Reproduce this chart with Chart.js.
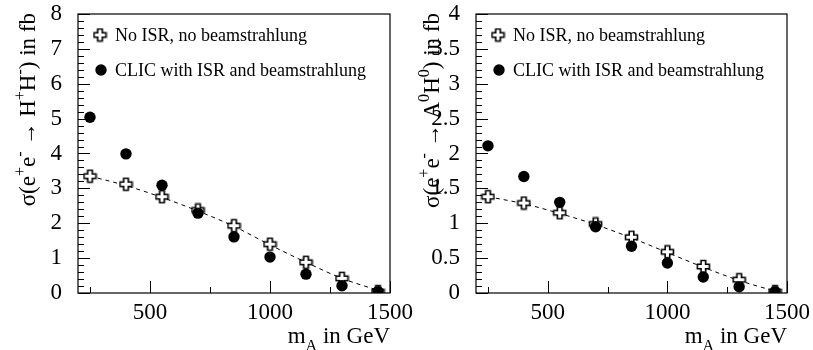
<!DOCTYPE html>
<html>
<head>
<meta charset="utf-8">
<script src="https://cdn.jsdelivr.net/npm/chart.js@4.4.1/dist/chart.umd.min.js"></script>
<style>
  html, body { margin: 0; padding: 0; background: #fff; }
  #wrap { position: relative; width: 813px; height: 350px; overflow: hidden; }
  .panel { position: absolute; top: 0; height: 350px; }
  #p1 { left: 0; width: 420px; }
  #p2 { left: 406px; width: 407px; }
</style>
</head>
<body>
<div id="wrap">
  <div class="panel" id="p1"><canvas id="chargedChart" width="420" height="350"></canvas></div>
  <div class="panel" id="p2"><canvas id="neutralChart" width="407" height="350"></canvas></div>
</div>
<script>
// m_A points (GeV)
const massPoints = [250, 400, 550, 700, 850, 1000, 1150, 1300, 1450];

// sigma(e+e- -> H+H-) in fb
const chargedNoIsr = [3.35, 3.12, 2.76, 2.38, 1.93, 1.40, 0.88, 0.42, 0.04];
const chargedClic  = [5.04, 3.99, 3.09, 2.29, 1.61, 1.03, 0.54, 0.21, 0.04];

// sigma(e+e- -> A0H0) in fb
const neutralNoIsr = [1.38, 1.29, 1.15, 0.99, 0.80, 0.59, 0.38, 0.19, 0.02];
const neutralClic  = [2.11, 1.67, 1.30, 0.95, 0.67, 0.43, 0.23, 0.09, 0.02];

// dashed curve through the no-ISR cross section
const curveMass    = [250, 400, 550, 700, 850, 1000, 1150, 1300, 1450, 1490];
const chargedCurve = [3.35, 3.08, 2.74, 2.35, 1.91, 1.38, 0.88, 0.42, 0.08, 0];
const neutralCurve = [1.38, 1.28, 1.14, 0.98, 0.79, 0.58, 0.37, 0.18, 0.03, 0];

const xTicks = [500, 1000, 1500];
const chargedTicks = [0, 1, 2, 3, 4, 5, 6, 7, 8];
const neutralTicks = [0, 0.5, 1, 1.5, 2, 2.5, 3, 3.5, 4];
const legendLabels = ['No ISR, no beamstrahlung', 'CLIC with ISR and beamstrahlung'];

const SERIF = "'Liberation Serif', 'Times New Roman', serif";

// open cross marker
function makeCross() {
  const c = document.createElement('canvas');
  c.width = 15; c.height = 15;
  const g = c.getContext('2d');
  const m = 7.5, h = 6, w = 2.3;
  g.beginPath();
  g.moveTo(m - w, m - h); g.lineTo(m + w, m - h); g.lineTo(m + w, m - w);
  g.lineTo(m + h, m - w); g.lineTo(m + h, m + w); g.lineTo(m + w, m + w);
  g.lineTo(m + w, m + h); g.lineTo(m - w, m + h); g.lineTo(m - w, m + w);
  g.lineTo(m - h, m + w); g.lineTo(m - h, m - w); g.lineTo(m - w, m - w);
  g.closePath();
  g.fillStyle = '#fff'; g.fill();
  g.lineWidth = 1.6; g.strokeStyle = '#000'; g.stroke();
  return c;
}
const crossImg = makeCross();

// text with super/subscripts: parts = [[text, 'sup'|'sub'|undefined], ...]
function richWidth(ctx, parts, size) {
  let w = 0;
  parts.forEach(([t, k]) => {
    ctx.font = (k ? size * 0.7 : size) + 'px ' + SERIF;
    w += ctx.measureText(t).width;
  });
  return w;
}
function drawRich(ctx, parts, x, y, size) {
  parts.forEach(([t, k]) => {
    ctx.font = (k ? size * 0.7 : size) + 'px ' + SERIF;
    const dy = k === 'sup' ? -size * 0.45 : k === 'sub' ? size * 0.33 : 0;
    ctx.fillText(t, x, y + dy);
    x += ctx.measureText(t).width;
  });
}

const rootStyle = {
  id: 'rootStyle',
  beforeDatasetsDraw(chart, args, o) {
    const { ctx, chartArea: a, scales: { x, y } } = chart;
    ctx.save();
    ctx.strokeStyle = '#000';
    ctx.lineWidth = 1.2;
    ctx.strokeRect(a.left, a.top, a.right - a.left, a.bottom - a.top);
    ctx.lineWidth = 1;
    ctx.beginPath();
    for (let v = 0; v <= o.yMax + 1e-9; v += o.yMinor) {
      const p = Math.round(y.getPixelForValue(v)) + 0.5;
      const major = Math.abs(v / o.yMajor - Math.round(v / o.yMajor)) < 1e-6;
      ctx.moveTo(a.left, p); ctx.lineTo(a.left + (major ? 12 : 6), p);
    }
    for (let v = 250; v <= 1500; v += 250) {
      const p = Math.round(x.getPixelForValue(v)) + 0.5;
      const major = xTicks.includes(v);
      ctx.moveTo(p, a.bottom); ctx.lineTo(p, a.bottom - (major ? 12 : 6));
    }
    ctx.stroke();
    ctx.restore();
  },
  afterDraw(chart, args, o) {
    const { ctx, chartArea: a } = chart;
    ctx.save();
    ctx.fillStyle = '#000';
    ctx.textBaseline = 'alphabetic';
    // legend
    ctx.drawImage(crossImg, a.left + 22 - 7.5, 35 - 7.5);
    ctx.font = '18px ' + SERIF;
    ctx.fillText(legendLabels[0], a.left + 37, 41);
    ctx.beginPath();
    ctx.arc(a.left + 23, 70, 5.7, 0, Math.PI * 2);
    ctx.fill();
    ctx.fillText(legendLabels[1], a.left + 37, 76);
    // x title, right aligned
    const xt = [['m'], ['A', 'sub'], [' in GeV']];
    drawRich(ctx, xt, a.right - richWidth(ctx, xt, 23), 343, 23);
    // y title, rotated, right aligned at top
    ctx.translate(o.titleX, 13);
    ctx.rotate(-Math.PI / 2);
    drawRich(ctx, o.yTitle, -richWidth(ctx, o.yTitle, 23), 0, 23);
    ctx.restore();
  }
};

function buildChart(id, noIsr, clic, curve, yTicks, style) {
  new Chart(document.getElementById(id), {
    type: 'scatter',
    data: {
      datasets: [
        {
          label: legendLabels[1],
          data: massPoints.map((m, i) => ({ x: m, y: clic[i] })),
          pointStyle: 'circle', pointRadius: 5.7, pointHoverRadius: 5.7,
          backgroundColor: '#000', borderColor: '#000', borderWidth: 0,
          order: 0
        },
        {
          label: legendLabels[0],
          data: massPoints.map((m, i) => ({ x: m, y: noIsr[i] })),
          pointStyle: crossImg,
          order: 1
        },
        {
          type: 'line',
          data: curveMass.map((m, i) => ({ x: m, y: curve[i] })),
          borderColor: '#000', borderWidth: 1, borderDash: [4, 4],
          pointRadius: 0, fill: false, cubicInterpolationMode: 'monotone',
          order: 2
        }
      ]
    },
    options: {
      responsive: false,
      animation: false,
      layout: { padding: { top: 14, right: style.padRight, left: 0, bottom: 0 } },
      plugins: {
        legend: { display: false },
        tooltip: { enabled: false },
        rootStyle: style
      },
      scales: {
        x: {
          type: 'linear', min: 200, max: 1500,
          afterBuildTicks: s => { s.ticks = xTicks.map(v => ({ value: v })); },
          afterFit: s => { s.height = 57; s.paddingLeft = 0; s.paddingRight = 0; },
          grid: { display: false, drawTicks: false },
          border: { display: false },
          ticks: {
            color: '#000', padding: 6, maxRotation: 0,
            font: { family: SERIF, size: 23 },
            callback: v => String(v)
          }
        },
        y: {
          min: 0, max: style.yMax,
          afterBuildTicks: s => { s.ticks = yTicks.map(v => ({ value: v })); },
          afterFit: s => { s.width = style.yWidth; s.paddingTop = 0; s.paddingBottom = 0; },
          grid: { display: false, drawTicks: false },
          border: { display: false },
          ticks: {
            color: '#000', padding: 16,
            font: { family: SERIF, size: 23 },
            callback: v => String(v)
          }
        }
      }
    },
    plugins: [rootStyle]
  });
}

buildChart('chargedChart', chargedNoIsr, chargedClic, chargedCurve, chargedTicks, {
  yMax: 8, yMajor: 1, yMinor: 0.2, yWidth: 78, padRight: 30, titleX: 35,
  yTitle: [['σ(e'], ['+', 'sup'], ['e'], ['-', 'sup'], [' → H'], ['+', 'sup'], ['H'], ['-', 'sup'], [') in fb']]
});
buildChart('neutralChart', neutralNoIsr, neutralClic, neutralCurve, neutralTicks, {
  yMax: 4, yMajor: 0.5, yMinor: 0.1, yWidth: 70, padRight: 26, titleX: 33,
  yTitle: [['σ(e'], ['+', 'sup'], ['e'], ['-', 'sup'], [' → A'], ['0', 'sup'], ['H'], ['0', 'sup'], [') in fb']]
});
</script>
</body>
</html>
